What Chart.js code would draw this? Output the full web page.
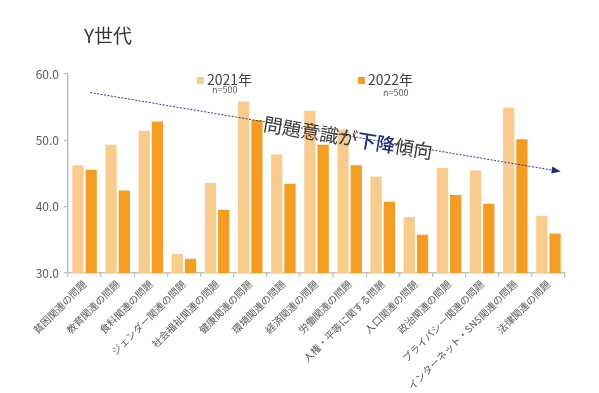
<!DOCTYPE html>
<html>
<head>
<meta charset="utf-8">
<script src="https://cdn.jsdelivr.net/npm/chart.js@4"></script>
<style>
  html, body { margin: 0; padding: 0; background: #fff; }
  #wrap { width: 599px; height: 393px; position: relative; }
</style>
</head>
<body>
<div id="wrap"><canvas id="gen_y_chart" width="599" height="393"></canvas></div>
<script>
// categories along the x axis
const categories = [
  "貧困関連の問題", "教育関連の問題", "食料関連の問題", "ジェンダー関連の問題",
  "社会福祉関連の問題", "健康関連の問題", "環境関連の問題", "経済関連の問題",
  "労働関連の問題", "人権・平等に関する問題", "人口関連の問題", "政治関連の問題",
  "プライバシー関連の問題", "インターネット・SNS関連の問題", "法律関連の問題"
];

// values
const values_2021 = [46.4, 49.5, 51.6, 33.0, 43.7, 56.0, 48.0, 54.6, 51.8, 44.7, 38.6, 46.0, 45.6, 55.1, 38.8];
const values_2022 = [45.7, 42.6, 53.0, 32.3, 39.7, 53.2, 43.6, 49.5, 46.4, 40.9, 35.9, 41.9, 40.6, 50.3, 36.1];

const series_names = ["2021年", "2022年"];
const sample_sizes = ["n=500", "n=500"];
const y_ticks = [30, 40, 50, 60];

// trend arrow in data units: [category index, value]
const trend_start = [0.17, 57.2];
const trend_end = [14.37, 45.3];

const colors = ["#f9cb8d", "#f59c21"];
const jp_font = "'Noto Sans CJK JP', 'Noto Sans', sans-serif";

// draws title, legend and trend arrow on top of the chart
const overlay_plugin = {
  id: "overlay",
  afterDraw(chart) {
    const ctx = chart.ctx;
    const xs = chart.scales.x, ys = chart.scales.y;
    ctx.save();

    // title
    ctx.fillStyle = "#333333";
    ctx.font = "19px " + jp_font;
    ctx.textBaseline = "middle";
    ctx.textAlign = "left";
    ctx.fillText("Y世代", 84, 36);

    // legend
    const legend_x = [197, 358];
    const note_x = [212, 383];
    const note_y = [90, 93];
    for (let i = 0; i < 2; i++) {
      ctx.fillStyle = colors[i];
      ctx.fillRect(legend_x[i], 77, 7, 7);
      ctx.fillStyle = "#404040";
      ctx.font = "14px " + jp_font;
      ctx.textBaseline = "middle";
      ctx.fillText(series_names[i], legend_x[i] + 10, 80);
      ctx.fillStyle = "#595959";
      ctx.font = "9px " + jp_font;
      ctx.fillText(sample_sizes[i], note_x[i], note_y[i]);
    }

    // trend arrow
    const x0 = xs.getPixelForValue(trend_start[0]), y0 = ys.getPixelForValue(trend_start[1]);
    const x1 = xs.getPixelForValue(trend_end[0]), y1 = ys.getPixelForValue(trend_end[1]);
    const ang = Math.atan2(y1 - y0, x1 - x0);
    ctx.strokeStyle = "#283a8a";
    ctx.lineWidth = 1;
    ctx.setLineDash([2, 1.5]);
    ctx.beginPath();
    ctx.moveTo(x0, y0);
    ctx.lineTo(x1 - 7 * Math.cos(ang), y1 - 7 * Math.sin(ang));
    ctx.stroke();
    ctx.setLineDash([]);
    ctx.fillStyle = "#1f2d78";
    ctx.beginPath();
    ctx.moveTo(x1, y1);
    ctx.lineTo(x1 - 9 * Math.cos(ang) + 3.5 * Math.sin(ang), y1 - 9 * Math.sin(ang) - 3.5 * Math.cos(ang));
    ctx.lineTo(x1 - 9 * Math.cos(ang) - 3.5 * Math.sin(ang), y1 - 9 * Math.sin(ang) + 3.5 * Math.cos(ang));
    ctx.closePath();
    ctx.fill();

    // trend label along the arrow
    const parts = [
      { t: "問題意識が", c: "#3a3a3a", w: "normal" },
      { t: "下降", c: "#1f2d78", w: "500" },
      { t: "傾向", c: "#3a3a3a", w: "normal" }
    ];
    const size = 19;
    let total = 0;
    parts.forEach(p => {
      ctx.font = p.w + " " + size + "px " + jp_font;
      p.width = ctx.measureText(p.t).width;
      total += p.width;
    });
    const cx = 348;
    const cy = y0 + (cx - x0) * Math.tan(ang) + 2;
    ctx.translate(cx, cy);
    ctx.rotate(ang);
    ctx.textBaseline = "middle";
    let px = -total / 2;
    parts.forEach(p => {
      ctx.font = p.w + " " + size + "px " + jp_font;
      ctx.fillStyle = p.c;
      ctx.fillText(p.t, px, 0);
      px += p.width;
    });
    ctx.restore();
  }
};

Chart.defaults.font.family = jp_font;
Chart.defaults.color = "#595959";

new Chart(document.getElementById("gen_y_chart").getContext("2d"), {
  type: "bar",
  data: {
    labels: categories,
    datasets: series_names.map((name, i) => ({
      label: name,
      data: i === 0 ? values_2021 : values_2022,
      backgroundColor: colors[i],
      borderColor: "rgba(255,255,255,0.55)",
      borderWidth: 1,
      categoryPercentage: 0.8,
      barPercentage: 1.0
    }))
  },
  options: {
    responsive: false,
    animation: false,
    layout: { padding: { left: 0, top: 74, right: 34, bottom: 0 } },
    plugins: {
      legend: { display: false },
      tooltip: { enabled: false }
    },
    scales: {
      x: {
        grid: { display: true, drawOnChartArea: false, offset: true, tickLength: 4, color: "#bfbfbf", lineWidth: 1.3 },
        border: { display: true, color: "#bfbfbf", width: 1.5 },
        ticks: { minRotation: 45, maxRotation: 45, autoSkip: false, font: { size: 10 }, color: "#595959", padding: 1 },
        afterFit(scale) { scale.height = 120; }
      },
      y: {
        min: 30,
        max: 60,
        afterBuildTicks(scale) { scale.ticks = y_ticks.map(v => ({ value: v })); },
        grid: { display: true, drawOnChartArea: false, tickLength: 4, color: "#bfbfbf", lineWidth: 1.3 },
        border: { display: true, color: "#bfbfbf", width: 1.5 },
        ticks: { font: { size: 12 }, color: "#595959", padding: 5, callback: v => v.toFixed(1) },
        afterFit(scale) { scale.width = 68; }
      }
    }
  },
  plugins: [overlay_plugin]
});
</script>
</body>
</html>
